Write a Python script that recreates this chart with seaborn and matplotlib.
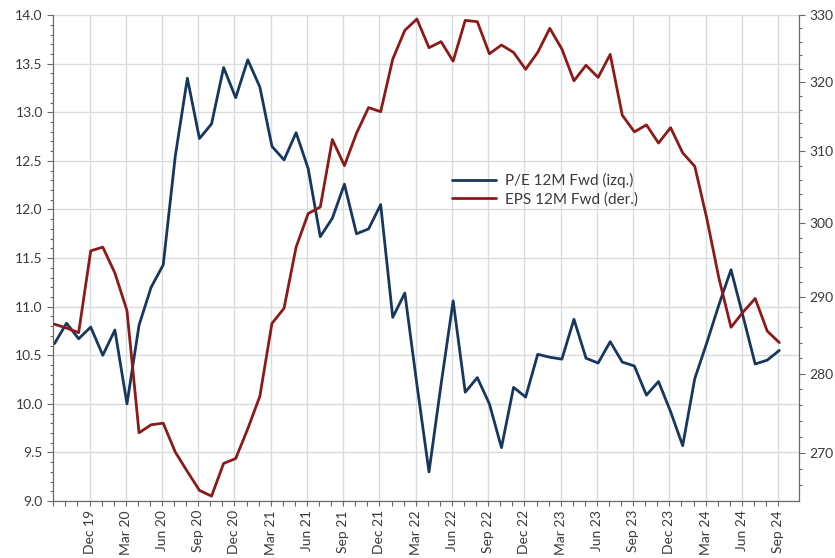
import matplotlib
matplotlib.use("Agg")
import matplotlib.pyplot as plt
import matplotlib.ticker as mticker
import seaborn as sns
import pandas as pd
import numpy as np

# Monthly observations, Sep 2019 .. Sep 2024
months = pd.date_range("2019-09-01", periods=61, freq="MS")

pe_12m_fwd = [
    10.62, 10.83, 10.67, 10.79,
    10.50, 10.76, 10.00, 10.81, 11.20, 11.43, 12.55, 13.35, 12.73, 12.88, 13.46, 13.15,
    13.54, 13.26, 12.65, 12.51, 12.79, 12.42, 11.72, 11.91, 12.26, 11.75, 11.80, 12.05,
    10.89, 11.14, 10.20, 9.30, 10.20, 11.06, 10.12, 10.27, 10.00, 9.55, 10.17, 10.07,
    10.51, 10.48, 10.46, 10.87, 10.47, 10.42, 10.64, 10.43, 10.39, 10.09, 10.23, 9.92,
    9.57, 10.26, 10.63, 11.02, 11.38, 10.90, 10.41, 10.45, 10.55,
]

eps_12m_fwd = [
    286.4, 285.9, 285.3, 296.2,
    296.7, 293.2, 288.2, 272.5, 273.5, 273.7, 270.1, 267.7, 265.4, 264.7, 268.7, 269.3,
    273.0, 277.1, 286.5, 288.5, 296.7, 301.3, 302.2, 311.7, 308.0, 312.6, 316.3, 315.7,
    323.4, 327.7, 329.4, 325.1, 326.0, 323.1, 329.2, 329.0, 324.2, 325.5, 324.4, 321.9,
    324.4, 328.0, 324.9, 320.2, 322.5, 320.7, 324.1, 315.2, 312.8, 313.8, 311.2, 313.4,
    309.8, 307.9, 300.6, 292.5, 286.0, 288.0, 289.8, 285.5, 284.0,
]

series_labels = ["P/E 12M Fwd (izq.)", "EPS 12M Fwd (der.)"]

tick_labels = [
    "Dec 19", "Mar 20", "Jun 20", "Sep 20", "Dec 20", "Mar 21", "Jun 21", "Sep 21",
    "Dec 21", "Mar 22", "Jun 22", "Sep 22", "Dec 22", "Mar 23", "Jun 23", "Sep 23",
    "Dec 23", "Mar 24", "Jun 24", "Sep 24",
]

left_ticks = [9.0, 9.5, 10.0, 10.5, 11.0, 11.5, 12.0, 12.5, 13.0, 13.5, 14.0]
right_ticks = [270, 280, 290, 300, 310, 320, 330]

BLUE = "#17375E"
RED = "#8B1A1A"
GRID = "#D9DCDF"
SPINE = "#6A6A6A"
TXT = "#3A3A3A"

sns.set_theme(style="white")
plt.rcParams["font.family"] = ["Lato", "DejaVu Sans"]

df = pd.DataFrame({"idx": np.arange(len(months)), "pe": pe_12m_fwd, "eps": eps_12m_fwd})

fig = plt.figure(figsize=(8.35, 5.58), dpi=100)
ax = fig.add_axes([0.0638, 0.102, 0.8934, 0.871])
ax2 = ax.twinx()
ax2.patch.set_visible(False)

sns.lineplot(data=df, x="idx", y="pe", ax=ax, color=BLUE, lw=2.0, label=series_labels[0], legend=False)
sns.lineplot(data=df, x="idx", y="eps", ax=ax2, color=RED, lw=2.0, label=series_labels[1], legend=False)

# x axis
ax.set_xlim(0, 61.65)
tick_pos = [3 + 3 * i - 0.1 for i in range(len(tick_labels))]
ax.set_xticks(tick_pos)
ax.set_xticklabels(tick_labels, rotation=90, fontsize=10, color=TXT)
ax.set_xticks(np.arange(0, 61) - 0.1, minor=True)
ax.tick_params(axis="x", which="both", direction="out", length=3.5, width=0.8, color=SPINE, bottom=True, pad=3)
ax.set_xlabel("")

# left axis
ax.set_ylim(9.0, 14.0)
ax.set_yticks(left_ticks)
ax.yaxis.set_major_formatter(mticker.FormatStrFormatter("%.1f"))
ax.yaxis.set_minor_locator(mticker.MultipleLocator(0.1))
ax.tick_params(axis="y", which="major", direction="out", length=4.5, width=0.8, color=SPINE,
               labelsize=10, labelcolor=TXT, left=True, pad=3)
ax.tick_params(axis="y", which="minor", direction="out", length=2.5, width=0.8, color=SPINE, left=True)
ax.set_ylabel("")

# right axis (log)
ax2.set_yscale("log")
ax2.set_ylim(264.1, 330)
ax2.yaxis.set_major_locator(mticker.FixedLocator(right_ticks))
ax2.yaxis.set_major_formatter(mticker.FixedFormatter([str(t) for t in right_ticks]))
ax2.yaxis.set_minor_locator(mticker.FixedLocator([v for v in range(266, 330, 2) if v % 10 != 0]))
ax2.yaxis.set_minor_formatter(mticker.NullFormatter())
ax2.tick_params(axis="y", which="major", direction="out", length=4.5, width=0.8, color=SPINE,
                labelsize=10, labelcolor=TXT, right=True, pad=3)
ax2.tick_params(axis="y", which="minor", direction="out", length=2.5, width=0.8, color=SPINE, right=True)
ax2.set_ylabel("")

# grid
ax2.grid(False)
ax.grid(True, which="major", axis="both", color=GRID, lw=1.0)
ax.set_axisbelow(True)

for a in (ax, ax2):
    a.spines["top"].set_visible(False)
    for s in ("left", "right", "bottom"):
        a.spines[s].set_color(SPINE)
        a.spines[s].set_linewidth(0.9)
ax.spines["right"].set_visible(False)
ax2.spines["left"].set_visible(False)
ax2.spines["bottom"].set_visible(False)

h1, l1 = ax.get_legend_handles_labels()
h2, l2 = ax2.get_legend_handles_labels()
leg = ax2.legend(h1 + h2, l1 + l2, loc="upper left", bbox_to_anchor=(0.534, 0.675),
                 frameon=False, fontsize=11, handlelength=2.9, handletextpad=0.6,
                 borderpad=0, borderaxespad=0, labelspacing=0.25)
for t in leg.get_texts():
    t.set_color(TXT)

fig.savefig("out.png", dpi=100)
